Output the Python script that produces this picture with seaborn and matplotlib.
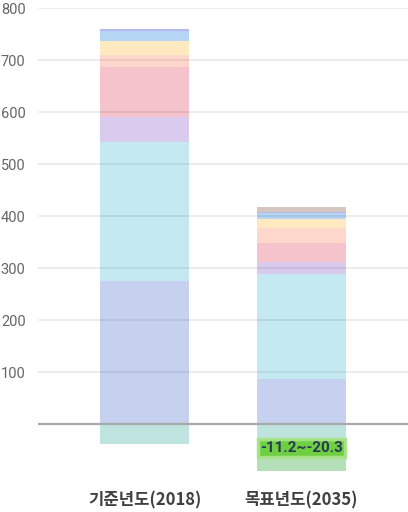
import pandas as pd
import seaborn as sns
import matplotlib.pyplot as plt

categories = ['기준년도(2018)', '목표년도(2035)']
# positive segments, bottom to top
series_names = ['s1', 's2', 's3', 's4', 's5', 's6', 's7', 's8', 's9']
values_2018 = [275, 267, 48, 97, 23, 27, 19, 4, 0]
values_2035 = [86, 202, 23.5, 37, 27.5, 19, 10.5, 2, 9]
colors = ['#c5d1ef', '#c4e9f0', '#d8cbed', '#f4c3cc', '#fed7cc',
          '#ffe9c0', '#b4d5f3', '#bab6f0', '#d5c7bf']
# negative segments, from zero downward
neg_names = ['n1', 'n2']
neg_2018 = [-38.5, 0]
neg_2035 = [-38.5, -52]
neg_colors = ['#bfe3df', '#b5dfb9']
label_text = '-11.2~-20.3'
yticks = [100, 200, 300, 400, 500, 600, 700, 800]

sns.set_theme(style='white')
plt.rcParams['font.family'] = ['Noto Sans CJK KR', 'DejaVu Sans']

fig = plt.figure(figsize=(4.08, 5.12), dpi=100)
ax = fig.add_axes([38 / 408, 36 / 512, 370 / 408, 468 / 512])

def cumulate(vals_a, vals_b, names):
    rows = []
    ca, cb = 0, 0
    for n, a, b in zip(names, vals_a, vals_b):
        ca += a
        cb += b
        rows.append({'series': n, 'category': categories[0], 'value': ca})
        rows.append({'series': n, 'category': categories[1], 'value': cb})
    return pd.DataFrame(rows)

df_pos = cumulate(values_2018, values_2035, series_names)
df_neg = cumulate(neg_2018, neg_2035, neg_names)

# draw cumulative totals from the top down so each layer shows as a segment
for name, col in reversed(list(zip(series_names, colors))):
    sub = df_pos[df_pos['series'] == name]
    sns.barplot(data=sub, x='category', y='value', color=col, saturation=1,
                width=0.567, ax=ax, zorder=2, order=categories, linewidth=0)
for name, col in reversed(list(zip(neg_names, neg_colors))):
    sub = df_neg[df_neg['series'] == name]
    sns.barplot(data=sub, x='category', y='value', color=col, saturation=1,
                width=0.567, ax=ax, zorder=2, order=categories, linewidth=0)

for y in yticks:
    ax.axhline(y, color='black', alpha=0.09, lw=1.1, zorder=3)
ax.axhline(0, color='#a9a9a9', lw=1.6, zorder=3)

ax.text(1, -46, label_text, ha='center', va='center', fontsize=11,
        fontweight='bold', color='#2b3a55', zorder=5,
        family=['Roboto', 'DejaVu Sans'],
        bbox=dict(boxstyle='square,pad=0.15', facecolor='#6ccf3c',
                  edgecolor='#a8e388', lw=2.5, alpha=0.95))

ax.set_xlim(-0.678, 1.678)
ax.set_ylim(-100, 800)
ax.set_yticks(yticks)
ax.set_yticklabels([str(t) for t in yticks], fontsize=10.5, color='#666666',
                   family=['Roboto', 'DejaVu Sans'])
ax.set_xlabel('')
ax.set_ylabel('')
ax.tick_params(axis='y', length=0, pad=9)
ax.tick_params(axis='x', length=0, pad=11)
for lbl in ax.get_xticklabels():
    lbl.set_fontsize(12)
    lbl.set_fontweight('bold')
    lbl.set_color('#404040')
for s in ax.spines.values():
    s.set_visible(False)

fig.savefig('out.png', dpi=100)
